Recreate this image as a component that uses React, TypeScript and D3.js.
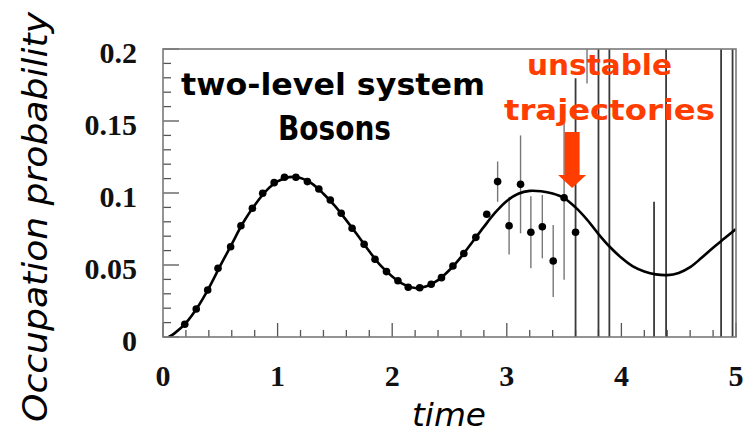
import React from "react";
import * as d3 from "d3";

// Theory curve: occupation probability vs time
const curveTime = [0.05, 0.1, 0.2, 0.3, 0.4, 0.5, 0.6, 0.7, 0.8, 0.9, 1.0, 1.1, 1.2, 1.3, 1.4, 1.5, 1.6, 1.7, 1.8, 1.9, 2.0, 2.1, 2.2, 2.3, 2.4, 2.5, 2.6, 2.7, 2.8, 2.9, 3.0, 3.1, 3.2, 3.3, 3.4, 3.5, 3.6, 3.7, 3.8, 3.9, 4.0, 4.1, 4.2, 4.3, 4.4, 4.5, 4.6, 4.7, 4.8, 4.9, 5.0];
const curveProb = [0, 0.0025, 0.0098, 0.0205, 0.034, 0.0495, 0.0645, 0.0795, 0.0915, 0.1015, 0.108, 0.111, 0.1105, 0.1065, 0.0995, 0.091, 0.081, 0.0705, 0.0595, 0.0495, 0.042, 0.0365, 0.034, 0.0352, 0.0395, 0.0465, 0.0555, 0.066, 0.0765, 0.0865, 0.0945, 0.0995, 0.1015, 0.1012, 0.0996, 0.0965, 0.09, 0.0815, 0.0715, 0.0625, 0.055, 0.049, 0.0455, 0.0435, 0.043, 0.0445, 0.0485, 0.055, 0.062, 0.0685, 0.075];

// Simulated trajectories (mean and statistical error)
const simTime = [0.19, 0.29, 0.39, 0.48, 0.59, 0.68, 0.78, 0.87, 0.97, 1.06, 1.16, 1.26, 1.36, 1.46, 1.555, 1.65, 1.755, 1.85, 1.95, 2.05, 2.14, 2.24, 2.34, 2.43, 2.53, 2.625, 2.73, 2.825, 2.92, 3.02, 3.12, 3.21, 3.31, 3.405, 3.5, 3.6, 3.7, 3.8, 3.895, 4.285, 4.39, 4.87, 4.97];
const simProb = [0.0089, 0.0194, 0.0326, 0.0477, 0.0627, 0.0773, 0.0894, 0.0998, 0.1072, 0.1109, 0.1109, 0.1079, 0.1028, 0.0951, 0.0859, 0.0755, 0.0644, 0.054, 0.0454, 0.0391, 0.0345, 0.0342, 0.0366, 0.0412, 0.0493, 0.058, 0.0692, 0.0852, 0.1079, 0.0773, 0.106, 0.0727, 0.0766, 0.0528, 0.0967, 0.0727, 0.26, 0.3, 0.28, -0.03, 0.32, 0.3, 0.34];
const simErr = [0, 0, 0, 0, 0, 0, 0, 0, 0, 0, 0, 0, 0, 0, 0, 0, 0, 0, 0, 0, 0, 0, 0, 0, 0, 0, 0, 0.001, 0.014, 0.02, 0.034, 0.025, 0.022, 0.025, 0.057, 0.107, 0.084, 0.4, 0.4, 0.124, 0.4, 0.4, 0.4];

const xTickLabels = ["0", "1", "2", "3", "4", "5"];
const yTickLabels = ["0", "0.05", "0.1", "0.15", "0.2"];

const titleLines = ["two-level system", "Bosons"];
const noteLines = ["unstable", "trajectories"];
const xTitle = "time";
const yTitle = "Occupation probability";

// Arrow annotation anchor (data coords of the tip)
const arrowTime = 3.57;
const arrowProb = 0.1035;

const W = 754;
const H = 433;
const M = { left: 163, right: 18, top: 49, bottom: 96 };

export default function App() {
  const x = d3.scaleLinear().domain([0, 5]).range([M.left, W - M.right]);
  const y = d3.scaleLinear().domain([0, 0.2]).range([H - M.bottom, M.top]);
  const x0 = x(0), x1 = x(5), y0 = y(0), y1 = y(0.2);

  const line = d3
    .line<number>()
    .x((_, i) => x(curveTime[i]))
    .y((d) => y(d))
    .curve(d3.curveCatmullRom.alpha(0.5));

  const yMinor = d3.range(0, 0.2001, 0.01);
  const xMinor = d3.range(0, 5.001, 0.2);

  const comic = "'Comic Sans MS', 'DejaVu Sans', sans-serif";
  const serif = "'Liberation Serif', 'Times New Roman', serif";
  const orange = "#ff3d00";

  const ax = x(arrowTime);
  const ay = y(arrowProb);

  return (
    <svg
      width={W}
      height={H}
      style={{ position: "absolute", left: 0, top: 0, background: "#fff" }}
    >
      <defs>
        <clipPath id="plot-area">
          <rect x={x0} y={y1} width={x1 - x0} height={y0 - y1} />
        </clipPath>
      </defs>

      {/* ticks */}
      {yMinor.map((v, i) => {
        const major = i % 5 === 0;
        return (
          <line
            key={"yt" + i}
            x1={x0}
            x2={x0 + (major ? 16 : 8)}
            y1={y(v)}
            y2={y(v)}
            stroke="#555"
            strokeWidth={1.3}
          />
        );
      })}
      {xMinor.map((v, i) => {
        const major = i % 5 === 0;
        return (
          <line
            key={"xt" + i}
            x1={x(v)}
            x2={x(v)}
            y1={y0}
            y2={y0 - (major ? 14 : 7)}
            stroke="#555"
            strokeWidth={1.3}
          />
        );
      })}

      {/* error bars */}
      <g clipPath="url(#plot-area)">
        {simTime.map((t, i) => {
          const e = simErr[i];
          if (e <= 0) return null;
          const big = e > 0.1;
          return (
            <line
              key={"e" + i}
              x1={x(t)}
              x2={x(t)}
              y1={y(simProb[i] + e)}
              y2={y(simProb[i] - e)}
              stroke={big ? "#3a3a3a" : "#777"}
              strokeWidth={big ? 1.8 : 1.4}
            />
          );
        })}
      </g>

      {/* theory curve */}
      <path
        d={line(curveProb) ?? ""}
        fill="none"
        stroke="#000"
        strokeWidth={2.6}
        clipPath="url(#plot-area)"
      />

      {/* simulated points */}
      <g clipPath="url(#plot-area)">
        {simTime.map((t, i) => (
          <circle key={"p" + i} cx={x(t)} cy={y(simProb[i])} r={3.8} fill="#000" />
        ))}
      </g>

      {/* frame */}
      <rect
        x={x0}
        y={y1}
        width={x1 - x0}
        height={y0 - y1}
        fill="none"
        stroke="#7a7a7a"
        strokeWidth={1.6}
      />

      {/* tick labels */}
      {yTickLabels.map((s, i) => (
        <text
          key={"yl" + i}
          x={137}
          y={y(i * 0.05) + 14}
          textAnchor="end"
          fontFamily={serif}
          fontWeight="bold"
          fontSize={30}
          fill="#111"
        >
          {s}
        </text>
      ))}
      {xTickLabels.map((s, i) => (
        <text
          key={"xl" + i}
          x={x(i)}
          y={386}
          textAnchor="middle"
          fontFamily={serif}
          fontWeight="bold"
          fontSize={30}
          fill="#111"
        >
          {s}
        </text>
      ))}

      {/* axis titles */}
      <text
        x={449}
        y={426}
        textAnchor="middle"
        fontFamily={comic}
        fontStyle="italic"
        fontSize={32}
        textLength={74}
        lengthAdjust="spacingAndGlyphs"
        fill="#000"
      >
        {xTitle}
      </text>
      <text
        transform="translate(47,217) rotate(-90)"
        textAnchor="middle"
        fontFamily={comic}
        fontStyle="italic"
        fontSize={33}
        textLength={410}
        lengthAdjust="spacingAndGlyphs"
        fill="#000"
      >
        {yTitle}
      </text>

      {/* in-plot labels */}
      <text
        x={181}
        y={95}
        fontFamily={comic}
        fontWeight="bold"
        fontSize={31}
        textLength={304}
        lengthAdjust="spacingAndGlyphs"
        fill="#000"
      >
        {titleLines[0]}
      </text>
      <text
        x={278}
        y={140}
        fontFamily={comic}
        fontWeight="bold"
        fontSize={33}
        textLength={113}
        lengthAdjust="spacingAndGlyphs"
        fill="#000"
      >
        {titleLines[1]}
      </text>
      <text
        x={527}
        y={75}
        fontFamily={comic}
        fontWeight="bold"
        fontSize={28}
        textLength={145}
        lengthAdjust="spacingAndGlyphs"
        fill={orange}
      >
        {noteLines[0]}
      </text>
      <text
        x={504}
        y={120}
        fontFamily={comic}
        fontWeight="bold"
        fontSize={28}
        textLength={211}
        lengthAdjust="spacingAndGlyphs"
        fill={orange}
      >
        {noteLines[1]}
      </text>

      {/* arrow */}
      <path
        d={`M${ax - 7.5},${ay - 56} L${ax + 7.5},${ay - 56} L${ax + 7.5},${ay - 13} L${ax + 14},${ay - 13} L${ax},${ay} L${ax - 14},${ay - 13} L${ax - 7.5},${ay - 13} Z`}
        fill={orange}
      />
    </svg>
  );
}
